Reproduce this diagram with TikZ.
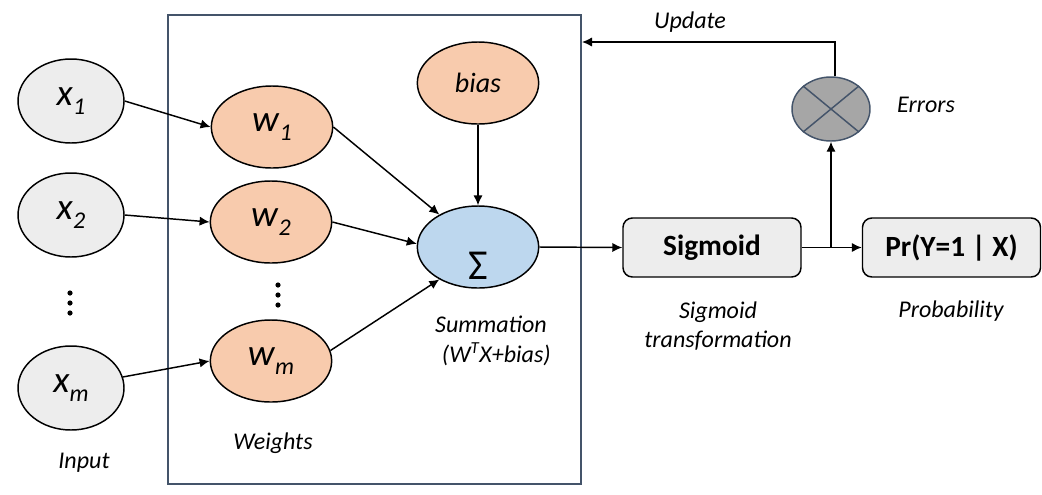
\documentclass[tikz,border=0pt]{standalone}
\usepackage{fontspec}
\setmainfont{Carlito}
\usetikzlibrary{shapes.geometric,arrows.meta}

\definecolor{inbg}{HTML}{EDEDED}
\definecolor{wtbg}{HTML}{F8CBAD}
\definecolor{sumbg}{HTML}{BDD7EE}
\definecolor{slate}{HTML}{44546A}
\definecolor{errbg}{HTML}{A6A6A6}

% variable with a lowered index, both italic
\newcommand{\varsub}[2]{\textit{#1}\raisebox{-0.55ex}{\fontsize{18}{18}\selectfont\textit{#2}}}

\tikzset{
  unit/.style={ellipse,draw,line width=1.1pt,inner sep=0pt,
    minimum width=91pt,minimum height=61.5pt,font=\fontsize{28}{28}\selectfont},
  inunit/.style={unit,fill=inbg,minimum width=79.5pt,minimum height=63pt},
  wunit/.style={unit,fill=wtbg},
  stagebox/.style={rectangle,draw,line width=1.1pt,rounded corners=7pt,fill=inbg,
    minimum width=133.5pt,minimum height=44.25pt,font=\bfseries\fontsize{22}{22}\selectfont},
  caption/.style={font=\itshape\fontsize{18}{22}\selectfont,align=center},
  arr/.style={-{Latex[length=7.5pt,width=7pt]},line width=1.1pt}
}

\begin{document}
\begin{tikzpicture}[x=0.75pt,y=-0.75pt]
  \useasboundingbox (0,0) rectangle (1042,494);

  % Frame around weights and summation
  \node[draw=slate,line width=1.5pt,minimum width=309.75pt,minimum height=351.75pt,inner sep=0pt]
    (frame) at (374.5,249.5) {};

  % Inputs and weights
  \node[inunit] (x1) at (71,101) {\varsub{x}{1}};
  \node[inunit] (x2) at (71,215) {\varsub{x}{2}};
  \node[inunit] (xm) at (71,388) {\varsub{x}{m}};
  \node[wunit] (w1) at (272,127) {\varsub{w}{1}};
  \node[wunit] (w2) at (271,222) {\varsub{w}{2}};
  \node[wunit] (wm) at (271,361) {\varsub{w}{m}};
  \foreach \dy in {-10,0,10} {
    \fill (70,303+\dy) circle (2.6);
    \fill (278,295+\dy) circle (2.6);
  }

  % Bias and summation
  \node[wunit,font=\itshape\fontsize{21}{21}\selectfont] (bias) at (478,83) {bias};
  \node[unit,fill=sumbg,font=\fontsize{32}{32}\selectfont] (sum) at (478,247) {};
  \node[font=\fontsize{32}{32}\selectfont,inner sep=0pt] (sigma) at (478,266) {Σ};

  % Sigmoid, output and error
  \node[stagebox] (sig) at (712,247.5) {Sigmoid};
  \node[stagebox] (prob) at (951.5,247.5) {Pr(Y=1 | X)};
  \node[ellipse,draw=slate,line width=1.1pt,fill=errbg,inner sep=0pt,
    minimum width=58.5pt,minimum height=48pt] (err) at (831,109) {};
  \draw[slate,line width=1.1pt] (err.north west) -- (err.south east)
    (err.north east) -- (err.south west);

  % Captions
  \node[caption] (lin) at (84,463) {Input};
  \node[caption] (lw) at (273,443) {Weights};
  \node[caption] (lsum) at (491,341) {Summation\\\hspace*{8pt}(W\textsuperscript{T}X+bias)};
  \node[caption] (lsig) at (718,326) {Sigmoid\\transformation};
  \node[caption] (lprob) at (951,311) {Probability};
  \node[caption] (lerr) at (926,105) {Errors};
  \node[caption] (lupd) at (690,22) {Update};

  % Connectors
  \draw[arr] (x1.east) -- (w1.west);
  \draw[arr] (x2.east) -- (w2.west);
  \draw[arr] (xm.12) -- (wm.west);
  \draw[arr] (w1.east) -- (sum.140);
  \draw[arr] (w2.east) -- (sum.177);
  \draw[arr] (wm.10) -- (sum.220);
  \draw[arr] (bias.south) -- (sum.north);
  \draw[arr] (sum.east) -- (sig.west);
  \draw[arr] (sig.east) -- (prob.west);
  \coordinate (br) at (sig.east -| err.south);
  \draw[arr] (br) -- (err.south);
  \coordinate (upd) at (frame.east |- 0,42);
  \draw[arr] ([xshift=3]err.north) |- (upd);
\end{tikzpicture}
\end{document}
